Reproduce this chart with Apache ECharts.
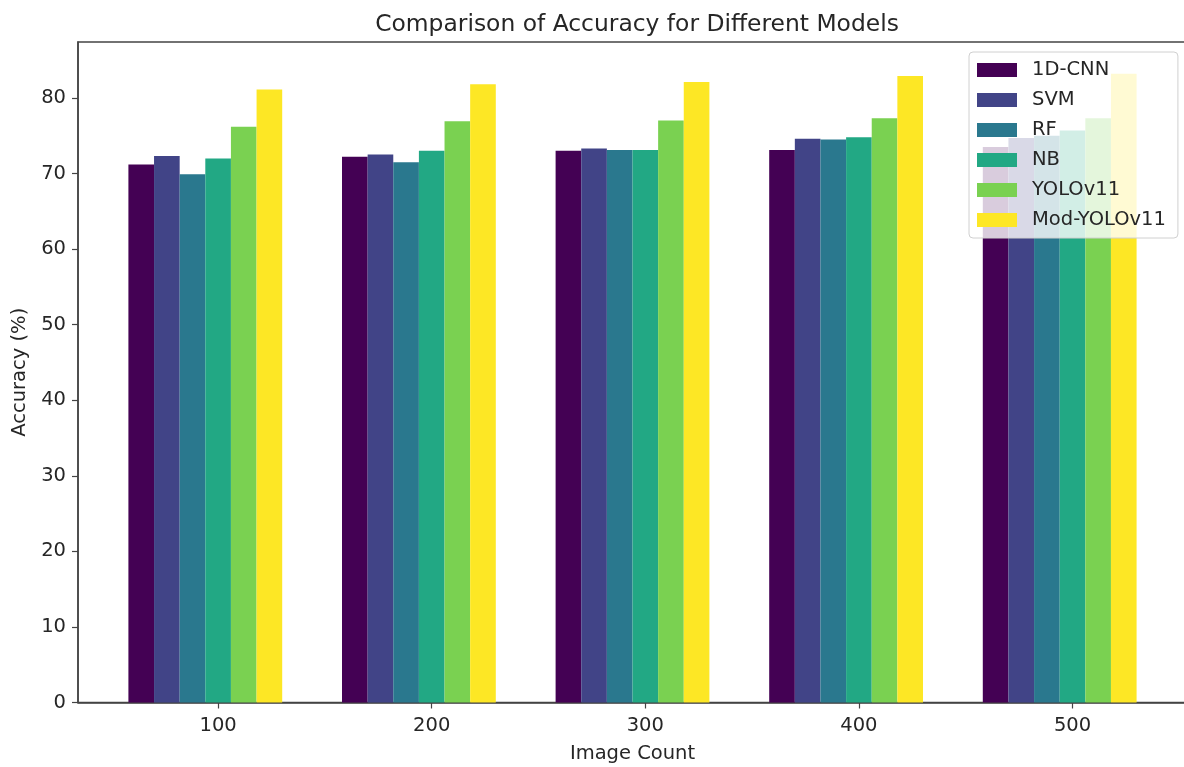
<!DOCTYPE html>
<html>
<head>
<meta charset="utf-8">
<script src="https://cdn.jsdelivr.net/npm/echarts@6/dist/echarts.min.js"></script>
<style>
html,body{margin:0;padding:0;background:#fff;}
#chart{width:1184px;height:767px;}
</style>
</head>
<body>
<div id="chart"></div>
<script>
// ---- data ----
const imageCounts = [100, 200, 300, 400, 500];
const yTicks = [0, 10, 20, 30, 40, 50, 60, 70, 80];
const modelNames = ['1D-CNN', 'SVM', 'RF', 'NB', 'YOLOv11', 'Mod-YOLOv11'];
const cnn1d   = [71.2, 72.2, 73.0, 73.1, 73.5];
const svm     = [72.3, 72.5, 73.3, 74.6, 74.7];
const rf      = [69.9, 71.5, 73.1, 74.5, 75.0];
const nb      = [72.0, 73.0, 73.1, 74.8, 75.7];
const yolov11 = [76.2, 76.9, 77.0, 77.3, 77.3];
const modYolo = [81.1, 81.8, 82.1, 82.9, 83.2];
const seriesValues = [cnn1d, svm, rf, nb, yolov11, modYolo];
const colors = ['#440154', '#414487', '#2a788e', '#22a884', '#7ad151', '#fde725'];

// ---- layout helpers ----
const step = 100;            // spacing between groups in axis units
const barFrac = 0.12;        // bar width as fraction of step
// the tick sits on the 4th bar (NB): shift the centred group by half a bar
const shift = -step * barFrac / 2;

const FONT = 'DejaVu Sans';
const TXT = '#262626';
const AX = '#444';
const LBL = 19.5;

const chart = echarts.init(document.getElementById('chart'), null, {renderer: 'canvas'});
const series = modelNames.map((name, i) => ({
  name: name,
  type: 'bar',
  barWidth: (barFrac * 100) + '%',
  barGap: '0%',
  itemStyle: {color: colors[i]},
  data: imageCounts.map((c, j) => [c + shift, seriesValues[i][j]])
}));

chart.setOption({
  animation: false,
  backgroundColor: '#fff',
  title: {
    text: 'Comparison of Accuracy for Different Models',
    left: 632,
    textAlign: 'center',
    top: 8,
    textStyle: {fontFamily: FONT, fontSize: 23.4, fontWeight: 'normal', color: TXT}
  },
  legend: {
    orient: 'vertical',
    align: 'left',
    left: 969,
    top: 52,
    padding: [8, 12, 8, 8],
    itemWidth: 40,
    itemHeight: 14,
    itemGap: 10,
    icon: 'rect',
    backgroundColor: 'rgba(255,255,255,0.8)',
    borderColor: '#d0d0d0',
    borderWidth: 1,
    borderRadius: 4,
    data: modelNames,
    textStyle: {fontFamily: FONT, fontSize: LBL, color: TXT, padding: [0, 0, 0, 10]}
  },
  grid: {
    left: 78, top: 42, right: -3, bottom: 64.5,
    containLabel: false,
    outerBoundsMode: 'none',
    show: true, borderColor: AX, borderWidth: 1.5, backgroundColor: 'transparent'
  },
  xAxis: {
    type: 'value',
    min: 34.4,
    max: 553.6,
    name: 'Image Count',
    nameLocation: 'middle',
    nameGap: 41,
    nameTextStyle: {fontFamily: FONT, fontSize: LBL, color: TXT},
    axisLine: {show: true, lineStyle: {color: AX, width: 1.5}},
    axisTick: {show: true, length: 6, lineStyle: {color: AX, width: 1.2}, customValues: imageCounts},
    axisLabel: {fontFamily: FONT, fontSize: LBL, color: TXT, margin: 13, customValues: imageCounts},
    splitLine: {show: false}
  },
  yAxis: {
    type: 'value',
    min: 0,
    max: 87.4,
    name: 'Accuracy (%)',
    nameLocation: 'middle',
    nameGap: 47,
    nameTextStyle: {fontFamily: FONT, fontSize: LBL, color: TXT},
    axisLine: {show: true, lineStyle: {color: AX, width: 1.5}},
    axisTick: {show: true, length: 6, lineStyle: {color: AX, width: 1.2}, customValues: yTicks},
    axisLabel: {fontFamily: FONT, fontSize: LBL, color: TXT, margin: 12, customValues: yTicks},
    splitLine: {show: false}
  },
  series: series
});
</script>
</body>
</html>
